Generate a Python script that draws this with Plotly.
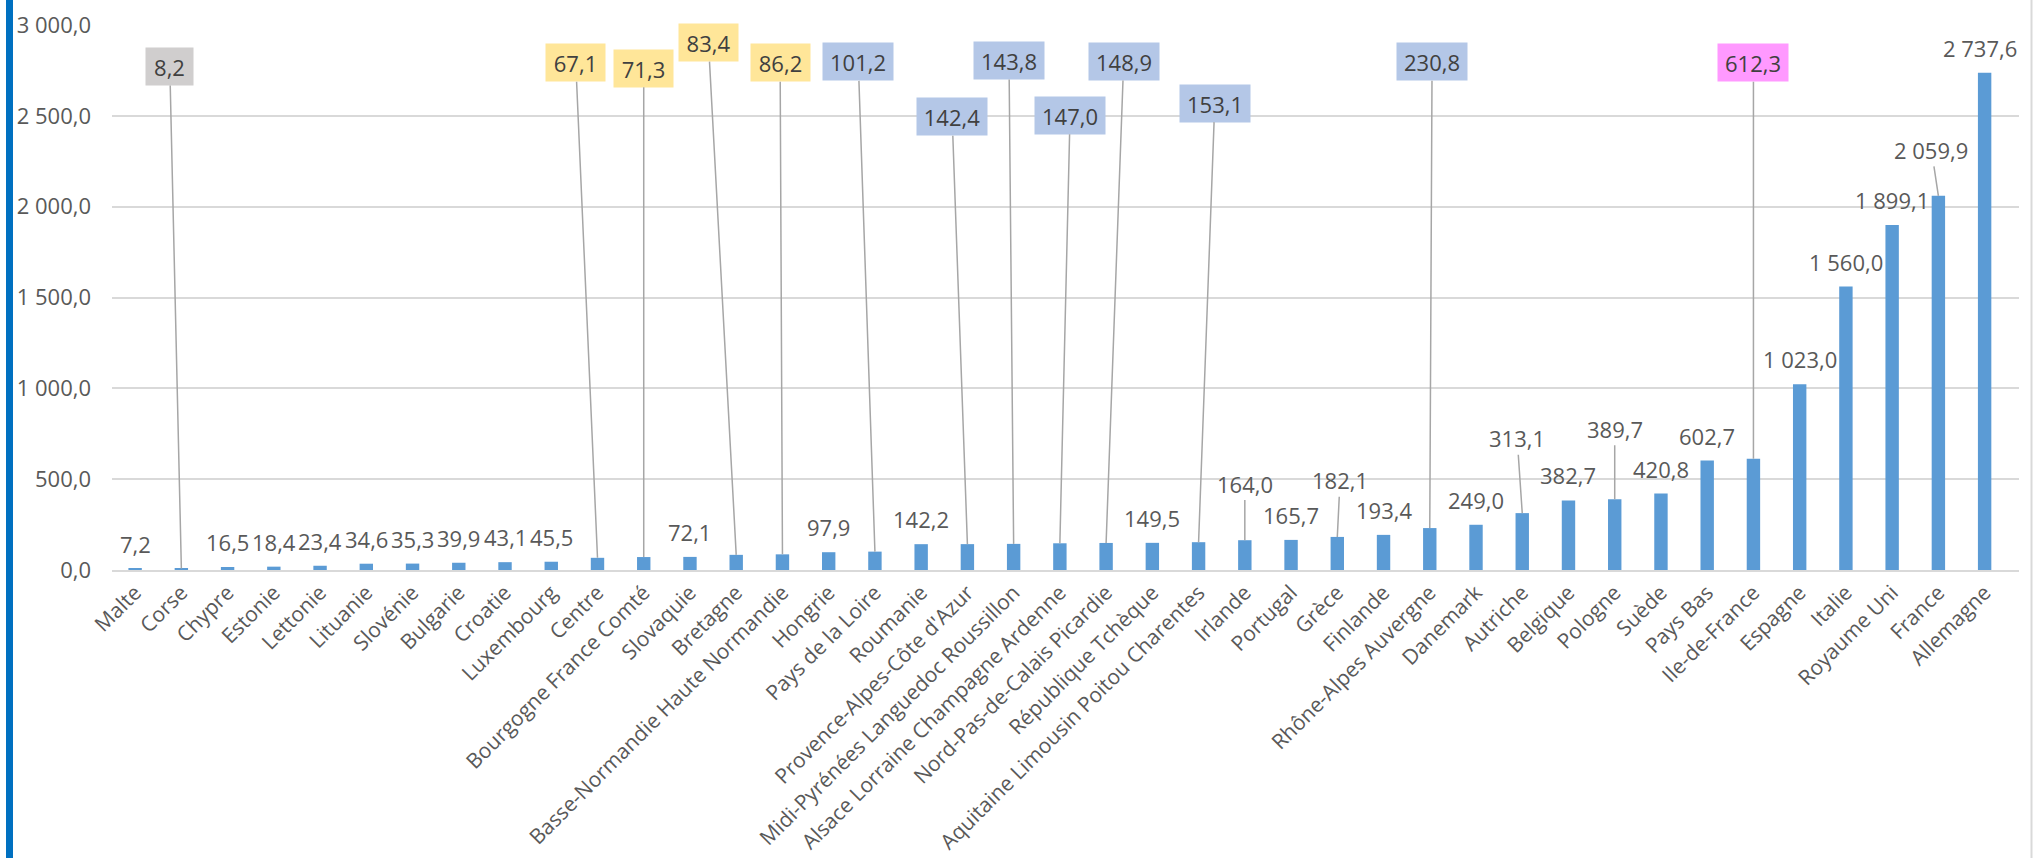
import plotly.graph_objects as go

# ---------------- data ----------------
categories = [
    "Malte", "Corse", "Chypre", "Estonie", "Lettonie", "Lituanie", "Slovénie",
    "Bulgarie", "Croatie", "Luxembourg", "Centre", "Bourgogne France Comté",
    "Slovaquie", "Bretagne", "Basse-Normandie Haute Normandie", "Hongrie",
    "Pays de la Loire", "Roumanie", "Provence-Alpes-Côte d'Azur",
    "Midi-Pyrénées Languedoc Roussillon", "Alsace Lorraine Champagne Ardenne",
    "Nord-Pas-de-Calais Picardie", "République Tchèque",
    "Aquitaine Limousin Poitou Charentes", "Irlande", "Portugal", "Grèce",
    "Finlande", "Rhône-Alpes Auvergne", "Danemark", "Autriche", "Belgique",
    "Pologne", "Suède", "Pays Bas", "Ile-de-France", "Espagne", "Italie",
    "Royaume Uni", "France", "Allemagne",
]
values = [
    7.2, 8.2, 16.5, 18.4, 23.4, 34.6, 35.3, 39.9, 43.1, 45.5, 67.1, 71.3,
    72.1, 83.4, 86.2, 97.9, 101.2, 142.2, 142.4, 143.8, 147.0, 148.9, 149.5,
    153.1, 164.0, 165.7, 182.1, 193.4, 230.8, 249.0, 313.1, 382.7, 389.7,
    420.8, 602.7, 612.3, 1023.0, 1560.0, 1899.1, 2059.9, 2737.6,
]
y_ticks = [0, 500, 1000, 1500, 2000, 2500, 3000]

# ---------------- styles / label placement ----------------
BAR_COLOR = "#5b9bd5"
GRID = "#d9d9d9"
TXT = "#595959"
BOX_TXT = "#404040"
LEADER = "#a6a6a6"
FONT = "Open Sans"
FS = 22

GREY, YELLOW, BLUE, PINK = "#d0cece", "#ffe699", "#b4c7e7", "#ff99ff"
box_fill = {
    "Corse": GREY,
    "Centre": YELLOW, "Bourgogne France Comté": YELLOW, "Bretagne": YELLOW,
    "Basse-Normandie Haute Normandie": YELLOW,
    "Pays de la Loire": BLUE, "Provence-Alpes-Côte d'Azur": BLUE,
    "Midi-Pyrénées Languedoc Roussillon": BLUE,
    "Alsace Lorraine Champagne Ardenne": BLUE,
    "Nord-Pas-de-Calais Picardie": BLUE,
    "Aquitaine Limousin Poitou Charentes": BLUE,
    "Rhône-Alpes Auvergne": BLUE,
    "Ile-de-France": PINK,
}
# label offset (in categories) and label centre height (axis units) for called-out labels
callout = {
    "Corse": (-0.25, 2771),
    "Centre": (-0.47, 2792),
    "Bourgogne France Comté": (0.0, 2762),
    "Bretagne": (-0.6, 2903),
    "Basse-Normandie Haute Normandie": (-0.05, 2792),
    "Pays de la Loire": (-0.36, 2797),
    "Provence-Alpes-Côte d'Azur": (-0.33, 2495),
    "Midi-Pyrénées Languedoc Roussillon": (-0.1, 2804),
    "Alsace Lorraine Champagne Ardenne": (0.22, 2503),
    "Nord-Pas-de-Calais Picardie": (0.38, 2799),
    "Aquitaine Limousin Poitou Charentes": (0.35, 2570),
    "Irlande": (0.0, 476),
    "Grèce": (0.06, 494),
    "Rhône-Alpes Auvergne": (0.05, 2798),
    "Autriche": (-0.11, 725),
    "Pologne": (0.0, 778),
    "Ile-de-France": (0.0, 2792),
    "France": (-0.15, 2313),
}
x_nudge = {"Allemagne": -0.1}
box_w = {3: 47, 4: 59, 5: 70}


def fmt(v):
    return f"{v:,.1f}".replace(",", " ").replace(".", ",")


fig = go.Figure(
    go.Bar(x=categories, y=values, marker_color=BAR_COLOR, marker_line_width=0)
)

annotations = []
for i, (cat, val) in enumerate(zip(categories, values)):
    label = fmt(val)
    if cat in callout:
        dx, ly = callout[cat]
        a = dict(
            x=i, y=val, xref="x", yref="y",
            ax=i + dx, ay=ly, axref="x", ayref="y",
            text=label, showarrow=True, arrowhead=0, arrowwidth=1.5,
            arrowcolor=LEADER, standoff=0,
            font=dict(family=FONT, size=FS, color=TXT),
        )
        if cat in box_fill:
            a.update(
                bgcolor=box_fill[cat], width=box_w.get(len(label), 70),
                height=37, borderpad=0,
                font=dict(family=FONT, size=FS, color=BOX_TXT),
            )
        annotations.append(a)
    else:
        annotations.append(dict(
            x=i + x_nudge.get(cat, 0), y=val, xref="x", yref="y",
            text=label, showarrow=False, yanchor="middle", yshift=25,
            font=dict(family=FONT, size=FS, color=TXT),
        ))

# decorative frame edges (blue left stripe, grey right edge)
L, R, T, B = 112, 14, 25, 288
W, H = 2033, 858
pw, ph = W - L - R, H - T - B
shapes = [
    dict(type="rect", xref="paper", yref="paper",
         x0=(6 - L) / pw, x1=(13 - L) / pw, y0=-B / ph, y1=1 + T / ph,
         fillcolor="#0070c0", line_width=0, layer="above"),
    dict(type="line", xref="paper", yref="paper",
         x0=(2031.5 - L) / pw, x1=(2031.5 - L) / pw, y0=-B / ph, y1=1 + T / ph,
         line=dict(color=GRID, width=2)),
]

fig.update_layout(
    width=W, height=H,
    margin=dict(l=L, r=R, t=T, b=B, pad=0),
    paper_bgcolor="white", plot_bgcolor="white",
    bargap=0.71, showlegend=False,
    separators=", ",
    font=dict(family=FONT, size=FS, color=TXT),
    annotations=annotations, shapes=shapes,
)
fig.update_xaxes(
    type="category", tickangle=-45, showline=True, linecolor=GRID, linewidth=2,
    ticks="", showgrid=False, automargin=False,
    tickfont=dict(family=FONT, size=21, color=TXT),
)
fig.update_yaxes(
    range=[0, 3000], tickvals=y_ticks, tickformat=",.1f", showgrid=True,
    gridcolor=GRID, gridwidth=2, zeroline=False, showline=False,
    ticks="", ticklabelstandoff=20, automargin=False,
    tickfont=dict(family=FONT, size=FS, color=TXT),
)

fig.write_html("out.html")
